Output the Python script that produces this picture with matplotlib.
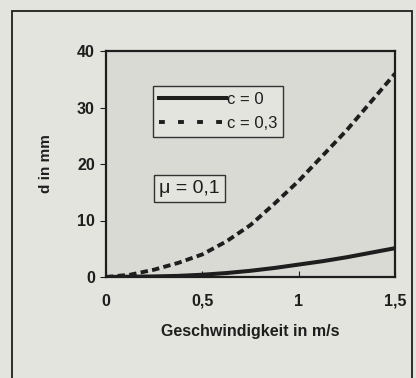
import matplotlib
matplotlib.use("Agg")
import matplotlib.pyplot as plt
from matplotlib.lines import Line2D
from matplotlib.patches import Rectangle

# values
v = [0, 0.125, 0.25, 0.375, 0.5, 0.625, 0.75, 0.875, 1.0, 1.125, 1.25, 1.375, 1.5]
d_c0 = [0, 0.05, 0.1, 0.2, 0.4, 0.7, 1.1, 1.6, 2.2, 2.8, 3.5, 4.3, 5.1]
d_c03 = [0, 0.4, 1.3, 2.5, 4.0, 6.3, 9.2, 13.0, 17.0, 21.5, 26.0, 31.0, 36.0]

labels = ["c = 0", "c = 0,3"]
xticks = [0, 0.5, 1, 1.5]
xticklabels = ["0", "0,5", "1", "1,5"]
yticks = [0, 10, 20, 30, 40]

plt.rcParams['font.family'] = ['Liberation Sans', 'DejaVu Sans']
ink = '#1e1e1e'
outer_bg = '#e3e4de'
inner_bg = '#d9dad4'

fig = plt.figure(figsize=(4.16, 3.78), dpi=100)
fig.patch.set_facecolor(outer_bg)

# outer frame of the scanned figure
fig.patches.append(Rectangle((12/416, -0.1), 400/416, 1.1 - 11/378,
                             transform=fig.transFigure, fill=False,
                             edgecolor=ink, linewidth=1.3))

ax = fig.add_axes([106/416, 1 - 277/378, 289/416, 226/378])
ax.set_facecolor(inner_bg)

ax.plot(v, d_c0, color=ink, linewidth=2.9, solid_capstyle='butt')
ax.plot(v, d_c03, color=ink, linewidth=2.8, dashes=(1.9, 1.1))

ax.set_xlim(0, 1.5)
ax.set_ylim(0, 40)
ax.set_xticks(xticks)
ax.set_xticklabels(xticklabels)
ax.set_yticks(yticks)
ax.tick_params(axis='x', direction='in', length=4, pad=12, labelsize=11.5, colors=ink)
ax.tick_params(axis='y', direction='out', length=4, pad=4, labelsize=11.5, colors=ink)
for lab in ax.get_xticklabels() + ax.get_yticklabels():
    lab.set_fontweight('bold')
for sp in ax.spines.values():
    sp.set_linewidth(1.6)
    sp.set_color(ink)

ax.set_xlabel("Geschwindigkeit in m/s", fontsize=11.5, fontweight='bold', color=ink, labelpad=11)
ax.set_ylabel("d in mm", fontsize=11, fontweight='bold', color=ink, labelpad=17)

handles = [Line2D([], [], color=ink, linewidth=2.9),
           Line2D([], [], color=ink, linewidth=2.8, dashes=(1.5, 3.4))]
leg = ax.legend(handles, labels, loc='upper left', bbox_to_anchor=(0.163, 0.845),
                borderaxespad=0, fancybox=False, framealpha=1, facecolor=outer_bg,
                edgecolor='#333333', fontsize=12, handlelength=4.0, handletextpad=0.1,
                borderpad=0.35, labelspacing=0.55)
leg.get_frame().set_linewidth(1.0)
for t in leg.get_texts():
    t.set_color(ink)

ax.text(0.289, 0.392, "\u03bc = 0,1", transform=ax.transAxes, fontsize=14,
        ha='center', va='center', color=ink,
        bbox=dict(boxstyle='square,pad=0.25', facecolor=outer_bg, edgecolor='#333333', linewidth=1.0))

fig.savefig("out.png", dpi=100, facecolor=fig.get_facecolor())
